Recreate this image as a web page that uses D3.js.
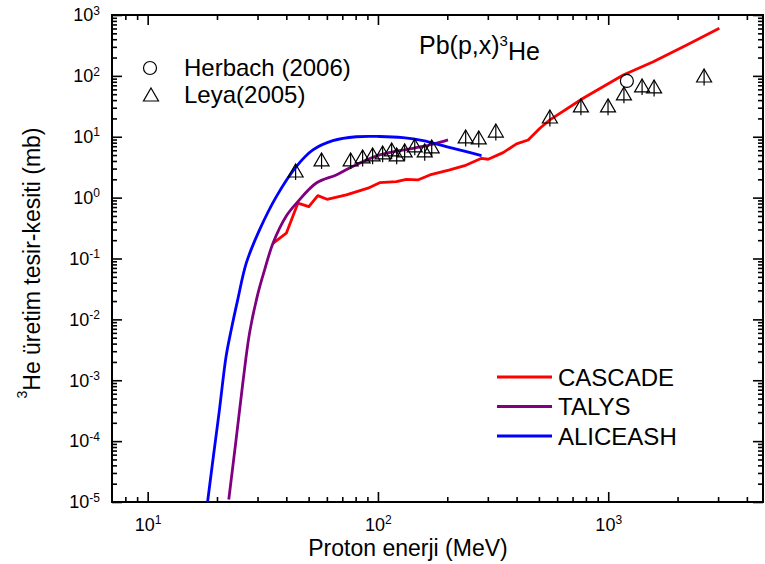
<!DOCTYPE html>
<html>
<head>
<meta charset="utf-8">
<script src="https://d3js.org/d3.v7.min.js"></script>
<style>
  body { margin: 0; background: #fff; }
  svg text { font-family: "Liberation Sans", Arial, sans-serif; fill: #000; }
</style>
</head>
<body>
<div id="chart"></div>
<script>

// CASCADE curve
var cascadeE = [35.0, 40.0, 44.9, 50.1, 54.8, 60.1, 72.9, 90.5, 101.7, 120.2, 133, 149, 168, 205, 238, 281.6, 301, 349.6, 399.6, 449, 505, 558, 778, 1162, 1569, 2193, 3038]
var cascadeV = [0.178, 0.26, 0.81, 0.71, 1.08, 0.94, 1.11, 1.43, 1.76, 1.83, 2.00, 1.95, 2.36, 2.85, 3.35, 4.43, 4.27, 5.48, 7.62, 8.86, 13.8, 18.9, 42.9, 103.5, 171, 321, 605]

// TALYS curve
var talysE = [22.5, 24.2, 25.9, 27.7, 30.0, 32.2, 35.0, 40.0, 44.9, 54.0, 65.9, 75.3, 101.7, 142, 173, 201.5]
var talysV = [1.1e-5, 1.05e-4, 9.1e-4, 6.0e-3, 0.025, 0.065, 0.178, 0.50, 0.86, 1.74, 2.36, 3.07, 5.03, 6.47, 7.53, 8.86]

// ALICEASH curve
var aliceE = [18.2, 19.2, 20.5, 21.9, 23.05, 24.6, 26.8, 30.6, 36.2, 44.2, 52.2, 63.7, 80.5, 101.7, 128.5, 157, 198, 242, 281.6]
var aliceV = [1.0e-5, 4.9e-5, 3.3e-4, 2.45e-3, 6.7e-3, 0.0209, 0.0837, 0.295, 1.04, 3.23, 6.07, 8.63, 10.0, 10.1, 9.66, 8.63, 6.87, 5.69, 4.89]

// Leya (2005) data
var leyaE = [43.9, 56.9, 76.1, 85.8, 94.8, 104.8, 114.7, 120.6, 130.6, 144.5, 159.6, 171.2, 240.4, 274, 325, 558, 761, 998, 1170, 1403, 1582, 2608]
var leyaV = [2.74, 4.16, 4.16, 4.66, 5.02, 5.42, 6.07, 5.02, 5.84, 7.06, 5.84, 6.8, 9.93, 9.55, 12.4, 21.1, 32.1, 32.1, 50.5, 68.3, 65.8, 99.6]
var leyaErr = [0.8, 1.2, 1.2, 1.4, 1.5, 1.6, 1.8, 1.5, 1.8, 2.1, 1.8, 2.0, 3.0, 2.9, 3.7, 6.3, 9.6, 9.6, 15, 20, 20, 30]

// Herbach (2006) data
var herbachE = [1205]
var herbachV = [82.5]

var xMajor = [10, 100, 1000]
var xMinor = [8, 9, 20, 30, 40, 50, 60, 70, 80, 90, 200, 300, 400, 500, 600, 700, 800, 900, 2000, 3000, 4000]
var yExp = [-5, -4, -3, -2, -1, 0, 1, 2, 3]

var models = [
  { name: "CASCADE", color: "#ff0000", E: cascadeE, V: cascadeV, curve: d3.curveLinear },
  { name: "TALYS", color: "#800080", E: talysE, V: talysV, curve: d3.curveCatmullRom.alpha(0.5) },
  { name: "ALICEASH", color: "#0000ff", E: aliceE, V: aliceV, curve: d3.curveCatmullRom.alpha(0.5) }
]

var margin = {top: 15, right: 2, bottom: 62, left: 112},
    width = 765 - margin.left - margin.right,
    height = 564 - margin.top - margin.bottom

var svg = d3.select("#chart")
    .append("svg")
    .attr("width", 765)
    .attr("height", 564)
    .append("g")
    .attr("transform", "translate(" + margin.left + "," + margin.top + ")")

var x = d3.scaleLog().domain([7, 4700]).range([0, width])
var y = d3.scaleLog().domain([1e-5, 1e3]).range([height, 0])

var yMajor = yExp.map(e => Math.pow(10, e))
var yMinor = []
yExp.slice(0, -1).forEach(e => { for (var k = 2; k <= 9; k++) yMinor.push(k * Math.pow(10, e)) })

function supLabel (sel, expOf) {
  sel.each(function (d) {
    var t = d3.select(this).text("10")
    t.append("tspan")
      .attr("dy", "-0.55em")
      .attr("font-size", "12px")
      .text(expOf(d))
  })
}
var expOf = d => Math.round(Math.log10(d))

// axes - ticks inside on all four sides
function styleAxis (g) {
  g.select(".domain").remove()
  g.selectAll(".tick line").attr("stroke", "#000").attr("stroke-width", 1.6)
}

svg.append("g").attr("transform", "translate(0," + height + ")")
  .call(d3.axisBottom(x).tickValues(xMajor).tickSizeInner(-10).tickPadding(16).tickFormat(""))
  .call(styleAxis)
  .call(g => g.selectAll(".tick text").attr("font-size", "18px").call(supLabel, expOf))
svg.append("g").attr("transform", "translate(0," + height + ")")
  .call(d3.axisBottom(x).tickValues(xMinor).tickSizeInner(-5).tickFormat(""))
  .call(styleAxis)
svg.append("g")
  .call(d3.axisTop(x).tickValues(xMajor).tickSizeInner(-10).tickFormat(""))
  .call(styleAxis)
svg.append("g")
  .call(d3.axisTop(x).tickValues(xMinor).tickSizeInner(-5).tickFormat(""))
  .call(styleAxis)

svg.append("g")
  .call(d3.axisLeft(y).tickValues(yMajor).tickSizeInner(-10).tickPadding(12).tickFormat(""))
  .call(styleAxis)
  .call(g => g.selectAll(".tick text").attr("font-size", "18px").call(supLabel, expOf))
svg.append("g")
  .call(d3.axisLeft(y).tickValues(yMinor).tickSizeInner(-5).tickFormat(""))
  .call(styleAxis)
svg.append("g").attr("transform", "translate(" + width + ",0)")
  .call(d3.axisRight(y).tickValues(yMajor).tickSizeInner(-10).tickFormat(""))
  .call(styleAxis)
svg.append("g").attr("transform", "translate(" + width + ",0)")
  .call(d3.axisRight(y).tickValues(yMinor).tickSizeInner(-5).tickFormat(""))
  .call(styleAxis)

// frame
svg.append("rect")
  .attr("width", width).attr("height", height)
  .attr("fill", "none").attr("stroke", "#000").attr("stroke-width", 2)

svg.append("defs").append("clipPath").attr("id", "clip")
  .append("rect").attr("width", width).attr("height", height)

// model curves
var plot = svg.append("g").attr("clip-path", "url(#clip)")

models.forEach(m => {
  var line = d3.line()
    .x(d => x(d[0]))
    .y(d => y(d[1]))
    .curve(m.curve)
  plot.append("path")
    .datum(m.E.map((e, i) => [e, m.V[i]]))
    .attr("d", line)
    .attr("fill", "none")
    .attr("stroke", m.color)
    .attr("stroke-width", 2.8)
    .attr("stroke-linejoin", "round")
})

// experimental points
var leya = leyaE.map((e, i) => ({ e: e, v: leyaV[i], err: leyaErr[i] }))
var tri = "M0,-7L7.5,6L-7.5,6Z"

plot.selectAll(".err").data(leya).enter().append("line")
  .attr("x1", d => x(d.e)).attr("x2", d => x(d.e))
  .attr("y1", d => y(d.v + d.err)).attr("y2", d => y(d.v - d.err))
  .attr("stroke", "#000").attr("stroke-width", 1.2)

plot.selectAll(".tri").data(leya).enter().append("path")
  .attr("d", tri)
  .attr("transform", d => "translate(" + x(d.e) + "," + y(d.v) + ")")
  .attr("fill", "none").attr("stroke", "#000").attr("stroke-width", 1.2)

plot.selectAll(".circ").data(herbachE).enter().append("circle")
  .attr("cx", d => x(d)).attr("cy", (d, i) => y(herbachV[i]))
  .attr("r", 6.5)
  .attr("fill", "none").attr("stroke", "#000").attr("stroke-width", 1.2)

// legend top-left
svg.append("circle").attr("cx", 38).attr("cy", 53).attr("r", 6.5)
  .attr("fill", "none").attr("stroke", "#000").attr("stroke-width", 1.2)
svg.append("path").attr("d", tri).attr("transform", "translate(39,80)")
  .attr("fill", "none").attr("stroke", "#000").attr("stroke-width", 1.2)
svg.append("text").attr("x", 72).attr("y", 53).attr("dy", "0.35em")
  .attr("font-size", "24px").text("Herbach (2006)")
svg.append("text").attr("x", 72).attr("y", 80).attr("dy", "0.35em")
  .attr("font-size", "24px").text("Leya(2005)")

// reaction label
var title = svg.append("text").attr("x", 307).attr("y", 39).attr("font-size", "25px")
title.append("tspan").text("Pb(p,x)")
title.append("tspan").attr("dy", "-0.55em").attr("font-size", "15px").text("3")
title.append("tspan").attr("dy", "0.55em").text("He")

// legend lower-right
var leg = svg.append("g").attr("transform", "translate(385,362)")
models.forEach((m, i) => {
  leg.append("line").attr("x1", 0).attr("x2", 55).attr("y1", i * 29.5).attr("y2", i * 29.5)
    .attr("stroke", m.color).attr("stroke-width", 2.8)
  leg.append("text").attr("x", 61).attr("y", i * 29.5).attr("dy", "0.36em")
    .attr("font-size", "24px").text(m.name)
})

// axis titles
svg.append("text")
  .attr("x", 296).attr("y", height + 54)
  .attr("text-anchor", "middle").attr("font-size", "23px")
  .text("Proton enerji (MeV)")

var yt = svg.append("text")
  .attr("transform", "translate(" + (35 - margin.left) + "," + (263 - margin.top) + ") rotate(-90)")
  .attr("text-anchor", "middle").attr("font-size", "23px")
yt.append("tspan").attr("dy", "-0.55em").attr("font-size", "14px").text("3")
yt.append("tspan").attr("dy", "0.55em").text("He üretim tesir-kesiti (mb)")

</script>
</body>
</html>
